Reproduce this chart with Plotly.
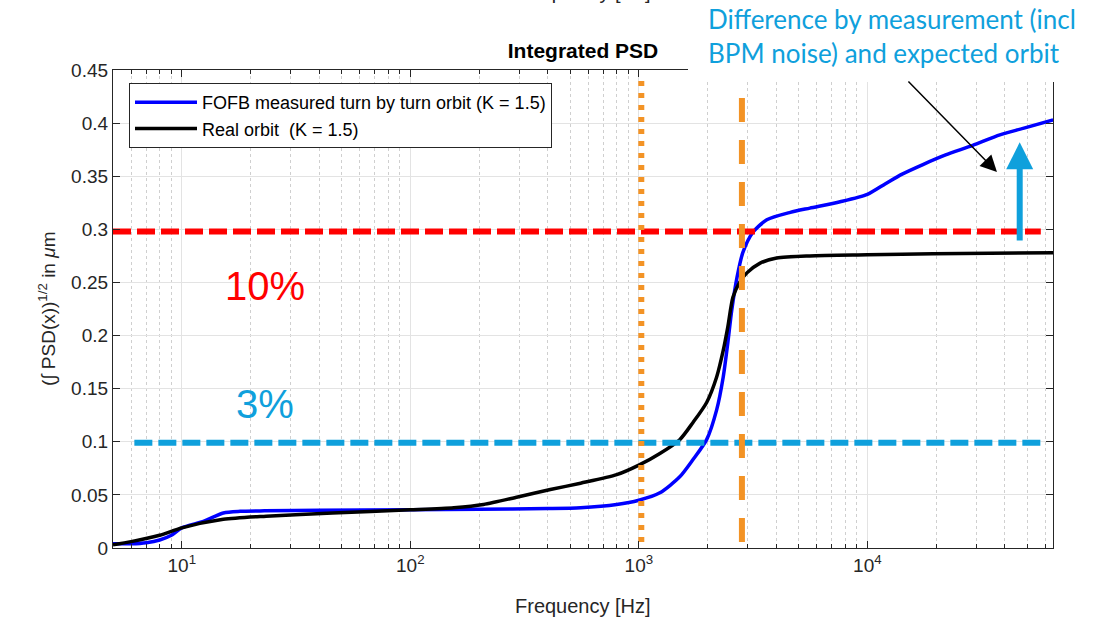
import numpy as np
import plotly.graph_objects as go

# ---------------- data ----------------
freq_fofb = [5, 6, 7, 8, 9, 10, 12.5, 15.2, 18, 23, 40, 100, 200, 400, 556, 800,
             1000, 1236, 1510, 1723, 1980, 2190, 2340, 2450, 2550, 2690, 2850,
             3150, 3630, 4600, 5600, 7600, 10000, 12000, 14200, 17500, 22000,
             28900, 38000, 48000, 65000]
psd_fofb = [0.004, 0.004, 0.005, 0.0075, 0.012, 0.019, 0.0252, 0.033, 0.0345,
            0.035, 0.0355, 0.036, 0.0365, 0.0372, 0.038, 0.041, 0.045, 0.052,
            0.067, 0.083, 0.102, 0.130, 0.161, 0.193, 0.224, 0.255, 0.278,
            0.297, 0.309, 0.316, 0.320, 0.326, 0.333, 0.343, 0.352, 0.361,
            0.370, 0.379, 0.389, 0.395, 0.403]

freq_real = [5, 6, 8, 10, 15.2, 23.4, 45.6, 100, 155, 209, 295, 410, 556, 800,
             1000, 1236, 1510, 1723, 1980, 2190, 2340, 2450, 2580, 2760, 2970,
             3380, 4010, 5600, 10000, 19400, 65000]
psd_real = [0.003, 0.006, 0.012, 0.019, 0.027, 0.030, 0.033, 0.036, 0.038,
            0.041, 0.048, 0.055, 0.061, 0.069, 0.078, 0.089, 0.102, 0.118,
            0.137, 0.161, 0.186, 0.208, 0.236, 0.250, 0.259, 0.268, 0.273,
            0.275, 0.276, 0.277, 0.278]

level_10pct = 0.298
level_3pct = 0.099
level_10_span = [5, 57400]
level_3_span = [6.2, 57400]

f_bandwidth = 1025     # dotted orange
f_cutoff = 2825        # dashed orange
vline_dotted_span = [0.0057, 0.4407]
vline_dashed_span = [0.0057, 0.4237]

arrow_f = 46400
arrow_span = [0.288, 0.382]
pointer_f = 36900
pointer_y = 0.354

x_range_hz = [5, 64900]
x_tick_vals = [10, 100, 1000, 10000]
x_tick_text = ["10<sup>1</sup>", "10<sup>2</sup>", "10<sup>3</sup>", "10<sup>4</sup>"]
x_minor_digits = [2, 3, 4, 5, 6, 7, 8, 9]
x_minor_decades = [1, 10, 100, 1000, 10000]
y_ticks = [0, 0.05, 0.1, 0.15, 0.2, 0.25, 0.3, 0.35, 0.4, 0.45]

legend_names = ["FOFB measured turn by turn orbit (K = 1.5)", "Real orbit  (K = 1.5)"]

x_minor_vals = [d * k for k in x_minor_decades for d in x_minor_digits]

# ---------------- styling ----------------
FONT = "Liberation Sans, Arial, Helvetica, sans-serif"
AX = "#262626"
LIGHTBLUE = "#0FA0DC"
ORANGE = "#F39325"

fig = go.Figure()

fig.add_trace(go.Scatter(x=freq_fofb, y=psd_fofb, mode="lines",
                         line=dict(color="#0000FF", width=3.5, shape="spline", smoothing=0.7),
                         name=legend_names[0]))
fig.add_trace(go.Scatter(x=freq_real, y=psd_real, mode="lines",
                         line=dict(color="#000000", width=3.5, shape="spline", smoothing=0.7),
                         name=legend_names[1]))

# reference lines
fig.add_trace(go.Scatter(x=level_10_span, y=[level_10pct, level_10pct], mode="lines",
                         line=dict(color="#FF0000", width=6, dash="18px,6px"),
                         showlegend=False, hoverinfo="skip"))
fig.add_trace(go.Scatter(x=level_3_span, y=[level_3pct, level_3pct], mode="lines",
                         line=dict(color=LIGHTBLUE, width=6, dash="18px,6px"),
                         showlegend=False, hoverinfo="skip"))
fig.add_trace(go.Scatter(x=[f_bandwidth, f_bandwidth], y=vline_dotted_span, mode="lines",
                         line=dict(color=ORANGE, width=6, dash="5px,7px"),
                         showlegend=False, hoverinfo="skip"))
fig.add_trace(go.Scatter(x=[f_cutoff, f_cutoff], y=vline_dashed_span, mode="lines",
                         line=dict(color=ORANGE, width=6, dash="24px,18px"),
                         showlegend=False, hoverinfo="skip"))

L, R, T, B = 113, 57, 70, 72
W, H = 1110, 620
pw, ph = W - L - R, H - T - B


def px2paper_x(px):
    return (px - L) / pw


def px2paper_y(py):
    return (H - B - py) / ph


fig.update_layout(
    width=W, height=H,
    margin=dict(l=L, r=R, t=T, b=B, pad=0),
    paper_bgcolor="white", plot_bgcolor="white",
    font=dict(family=FONT, color=AX, size=19),
    title=dict(text="<b>Integrated PSD</b>", x=0.5, xref="paper", xanchor="center",
               y=1 - 51 / H, yref="container", yanchor="middle",
               font=dict(family=FONT, size=21, color="#000000")),
    showlegend=True,
    legend=dict(x=px2paper_x(129), y=px2paper_y(83), xanchor="left", yanchor="top",
                bgcolor="white", bordercolor="#262626", borderwidth=1,
                font=dict(family=FONT, size=18, color="#000000"),
                tracegroupgap=0, itemwidth=62),
)

fig.update_xaxes(
    type="log", range=[np.log10(x_range_hz[0]), np.log10(x_range_hz[1])],
    tickmode="array", tickvals=x_tick_vals, ticktext=x_tick_text,
    showline=True, linecolor=AX, linewidth=1.2, mirror="ticks",
    ticks="inside", ticklen=7, tickcolor=AX, tickwidth=1,
    showgrid=True, gridcolor="#E3E3E3", gridwidth=1,
    minor=dict(tickmode="array", tickvals=x_minor_vals,
               ticks="inside", ticklen=4, tickcolor=AX, showgrid=True,
               gridcolor="#CFCFCF", griddash="dot", gridwidth=1),
    tickfont=dict(family=FONT, size=19, color=AX),
    zeroline=False,
)
fig.update_yaxes(
    range=[0, 0.45], tickvals=y_ticks,
    showline=True, linecolor=AX, linewidth=1.2, mirror="ticks",
    ticks="inside", ticklen=7, tickcolor=AX, tickwidth=1,
    showgrid=True, gridcolor="#E3E3E3", gridwidth=1,
    tickfont=dict(family=FONT, size=19, color=AX),
    zeroline=False,
)

# white box hiding the top-right frame (pasted text box in the original slide)
fig.add_shape(type="rect", xref="paper", yref="paper",
              x0=px2paper_x(688), x1=px2paper_x(1115),
              y0=px2paper_y(82), y1=px2paper_y(-5),
              fillcolor="white", line=dict(width=0), layer="above")

# axis titles
fig.add_annotation(text="(∫ PSD(x))<sup>1/2</sup> in <i>μ</i>m", textangle=-90,
                   xref="paper", yref="paper", x=px2paper_x(47), y=0.5,
                   xanchor="center", yanchor="middle", showarrow=False,
                   font=dict(family=FONT, size=19, color=AX))
fig.add_annotation(text="Frequency [Hz]", xref="paper", yref="paper",
                   x=0.5, y=px2paper_y(606), xanchor="center", yanchor="middle",
                   showarrow=False, font=dict(family=FONT, size=20, color=AX))
# remnant of the x label of a chart above (cut off at the top edge)
fig.add_annotation(text="Frequency [Hz]", xref="paper", yref="paper",
                   x=0.5, y=px2paper_y(5), xanchor="center", yanchor="bottom",
                   showarrow=False, font=dict(family=FONT, size=20, color=AX))

# percentage labels
fig.add_annotation(text="10%", xref="paper", yref="paper",
                   x=px2paper_x(265), y=px2paper_y(286), xanchor="center", yanchor="middle",
                   showarrow=False, font=dict(family=FONT, size=40, color="#FF0000"))
fig.add_annotation(text="3%", xref="paper", yref="paper",
                   x=px2paper_x(265), y=px2paper_y(404), xanchor="center", yanchor="middle",
                   showarrow=False, font=dict(family=FONT, size=40, color=LIGHTBLUE))

# explanatory text top right
fig.add_annotation(text="Difference by measurement (incl<br>BPM noise) and expected orbit",
                   xref="paper", yref="paper", x=px2paper_x(706), y=px2paper_y(1),
                   xanchor="left", yanchor="top", align="left", showarrow=False,
                   font=dict(family="Lato, Open Sans, sans-serif", size=26, color=LIGHTBLUE))

# blue vertical arrow
fig.add_annotation(x=np.log10(arrow_f), y=arrow_span[1], ax=np.log10(arrow_f), ay=arrow_span[0],
                   xref="x", yref="y", axref="x", ayref="y", text="",
                   showarrow=True, arrowhead=2, arrowsize=0.9, arrowwidth=6,
                   arrowcolor=LIGHTBLUE, standoff=0, startstandoff=0)
# black pointer arrow
fig.add_annotation(x=np.log10(pointer_f), y=pointer_y, ax=-90, ay=-92,
                   xref="x", yref="y", text="",
                   showarrow=True, arrowhead=2, arrowsize=2.2, arrowwidth=1.5,
                   arrowcolor="#000000", standoff=0)

fig.write_html("out.html")
